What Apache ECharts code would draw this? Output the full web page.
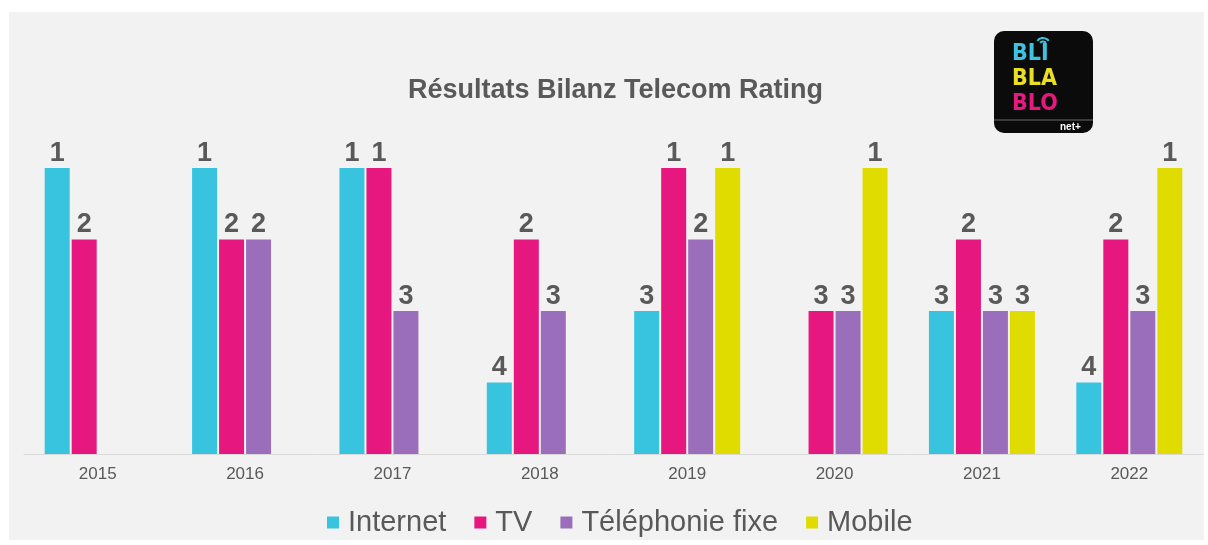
<!DOCTYPE html>
<html lang="fr">
<head>
  <meta charset="utf-8">
  <title>Résultats Bilanz Telecom Rating</title>
  <script src="https://cdn.jsdelivr.net/npm/echarts@6/dist/echarts.min.js"></script>
  <style>
    html, body { margin: 0; padding: 0; background: #fff; }
    #main {
      position: absolute;
      left: 9px;
      top: 12px;
      width: 1195px;
      height: 528px;
      background: #f2f2f2;
    }
  </style>
</head>
<body>
  <div id="main"></div>
  <script>
    // rang obtenu chaque année (1 = meilleur), null = pas de classement
    var years = ['2015', '2016', '2017', '2018', '2019', '2020', '2021', '2022'];
    var internet = [1, 1, 1, 4, 3, null, 3, 4];
    var tv = [2, 2, 1, 2, 1, 3, 2, 2];
    var fixe = [null, 2, 3, 3, 2, 3, 3, 3];
    var mobile = [null, null, null, null, 1, 1, 3, 1];

    var names = ['Internet', 'TV', 'Téléphonie fixe', 'Mobile'];
    var colors = ['#38c4df', '#e6177f', '#9b6ebb', '#e1dc00'];
    var ranks = [internet, tv, fixe, mobile];

    var myChart = echarts.init(document.getElementById('main'));

    // la hauteur de barre est inversée : rang 1 -> 4, rang 4 -> 1
    var series = ranks.map(function (arr, i) {
      return {
        name: names[i],
        type: 'bar',
        barWidth: 25,
        barGap: '8%',
        itemStyle: { color: colors[i] },
        label: {
          show: true,
          position: 'top',
          distance: 1,
          color: '#595959',
          fontFamily: 'Liberation Sans, Arial, sans-serif',
          fontWeight: 'bold',
          fontSize: 27,
          formatter: function (p) { return arr[p.dataIndex]; }
        },
        data: arr.map(function (r) { return r == null ? '-' : 5 - r; })
      };
    });

    var option = {
      animation: false,
      color: colors,
      title: {
        text: 'Résultats Bilanz Telecom Rating',
        left: 394,
        top: 60,
        textStyle: {
          color: '#595959',
          fontFamily: 'Liberation Sans, Arial, sans-serif',
          fontWeight: 'bold',
          fontSize: 27
        }
      },
      legend: {
        top: 491,
        left: 313,
        itemWidth: 12,
        itemHeight: 12,
        itemGap: 28,
        icon: 'rect',
        textStyle: {
          color: '#595959',
          fontFamily: 'Liberation Sans, Arial, sans-serif',
          fontSize: 29,
          padding: [0, 0, 0, 4]
        },
        data: names
      },
      grid: {
        left: 15,
        right: 1,
        top: 156,
        bottom: 86,
        containLabel: false
      },
      xAxis: {
        type: 'category',
        data: years,
        axisLine: { lineStyle: { color: '#d9d9d9', width: 1 } },
        axisTick: { show: false },
        axisLabel: {
          color: '#595959',
          fontFamily: 'Liberation Sans, Arial, sans-serif',
          fontSize: 17,
          margin: 12
        }
      },
      yAxis: {
        type: 'value',
        min: 0,
        max: 4,
        show: false,
        splitLine: { show: false }
      },
      // logo Bli Bla Blo
      graphic: [
        {
          type: 'rect',
          left: 985,
          top: 19,
          shape: { width: 99, height: 102, r: 10 },
          style: { fill: '#0b0b0b' }
        },
        {
          type: 'rect',
          left: 985,
          top: 107,
          shape: { width: 99, height: 2 },
          style: { fill: '#3a3a3a' }
        },
        {
          type: 'text',
          left: 1003,
          top: 31,
          style: { text: 'BLI', fill: '#3cc3df', font: 'bold 23px "DejaVu Sans Condensed", "DejaVu Sans", sans-serif' }
        },
        {
          type: 'arc',
          shape: { cx: 1034, cy: 33, r: 7, startAngle: -Math.PI * 0.8, endAngle: -Math.PI * 0.2 },
          style: { stroke: '#3cc3df', lineWidth: 2, fill: null }
        },
        {
          type: 'arc',
          shape: { cx: 1034, cy: 33, r: 3.5, startAngle: -Math.PI * 0.8, endAngle: -Math.PI * 0.2 },
          style: { stroke: '#3cc3df', lineWidth: 2, fill: null }
        },
        {
          type: 'text',
          left: 1003,
          top: 56,
          style: { text: 'BLA', fill: '#e8e020', font: 'bold 23px "DejaVu Sans Condensed", "DejaVu Sans", sans-serif' }
        },
        {
          type: 'text',
          left: 1003,
          top: 81,
          style: { text: 'BLO', fill: '#e6197f', font: 'bold 23px "DejaVu Sans Condensed", "DejaVu Sans", sans-serif' }
        },
        {
          type: 'text',
          left: 1051,
          top: 110,
          style: { text: 'net+', fill: '#ffffff', font: 'bold 10px "Liberation Sans", Arial, sans-serif' }
        }
      ],
      series: series
    };

    myChart.setOption(option);
  </script>
</body>
</html>
